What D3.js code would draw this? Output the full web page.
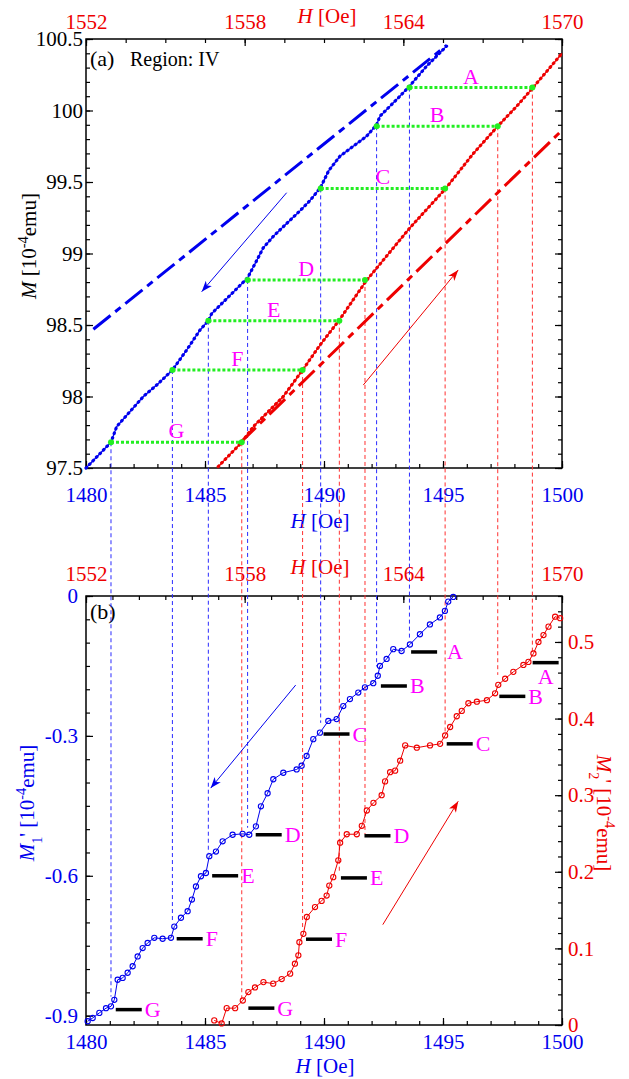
<!DOCTYPE html>
<html lang="en">
<head>
<meta charset="utf-8">
<title>Region IV: M(H) steps</title>
<script src="https://d3js.org/d3.v7.min.js"></script>
<style>
  body { margin: 0; background: #fff; }
  svg text { font-family: "Liberation Serif", "Times New Roman", serif; }
</style>
</head>
<body>
<script>
// ---------- data ----------
var letters = ["A", "B", "C", "D", "E", "F", "G"];

// panel (a), blue branch vs bottom H axis
var hBlueA = [1480.00, 1481.05, 1481.29, 1482.41, 1482.97, 1483.63, 1484.23, 1484.79, 1485.14, 1485.28,
              1486.19, 1486.79, 1487.20, 1487.45, 1487.87, 1488.43, 1489.00, 1489.41, 1489.85, 1490.20,
              1490.67, 1491.79, 1492.21, 1492.35, 1493.19, 1493.59, 1494.31, 1495.15];
var mBlueA = [97.50, 97.68, 97.79, 98.00, 98.08, 98.185, 98.325, 98.465, 98.53, 98.58,
              98.73, 98.83, 98.96, 99.04, 99.12, 99.21, 99.30, 99.37, 99.46, 99.58,
              99.68, 99.82, 99.90, 99.96, 100.10, 100.17, 100.31, 100.45];
// panel (a), red branch vs top H axis
var hRedA = [1557.00, 1557.89, 1558.33, 1559.46, 1560.19, 1560.85, 1561.58, 1562.60, 1564.25,
             1565.58, 1566.65, 1567.57, 1568.29, 1568.88, 1570.00];
var mRedA = [97.51, 97.68, 97.79, 98.00, 98.185, 98.36, 98.535, 98.81, 99.18,
             99.45, 99.70, 99.89, 100.03, 100.155, 100.40];
// dash-dot lines
var dashBlueH = [1480.31, 1495.15], dashBlueM = [98.47, 100.455];
var dashRedH = [1557.82, 1569.99], dashRedM = [97.675, 99.86];

// green step levels A..G
var stepM = [100.16, 99.89, 99.455, 98.815, 98.53, 98.185, 97.68];
var stepHBlue = [1493.59, 1492.21, 1489.86, 1486.79, 1485.14, 1483.63, 1481.05];
var stepHRed = [1568.88, 1567.57, 1565.58, 1562.55, 1561.58, 1560.19, 1557.89];
// where the guide lines stop in panel (b)
var lineEndM1 = [-0.094, -0.151, -0.272, -0.497, -0.551, -0.700, -0.859];
var lineEndM2 = [0.487, 0.457, 0.383, 0.249, 0.199, 0.127, 0.032];

// panel (b) M1' (blue) vs bottom axis
var hBlueB = [1480.07, 1480.28, 1480.56, 1480.84, 1481.05, 1481.19, 1481.33, 1481.54, 1481.75, 1481.96,
              1482.17, 1482.38, 1482.59, 1482.87, 1483.22, 1483.57, 1483.71, 1483.99, 1484.27, 1484.45,
              1484.62, 1484.83, 1485.04, 1485.18, 1485.46, 1485.74, 1486.16, 1486.58, 1486.86, 1487.14,
              1487.35, 1487.63, 1487.87, 1488.29, 1488.85, 1489.06, 1489.27, 1489.55, 1489.83, 1490.18,
              1490.53, 1490.81, 1491.09, 1491.44, 1491.72, 1492.07, 1492.26, 1492.35, 1492.63, 1492.91,
              1493.26, 1493.61, 1494.03, 1494.45, 1494.87, 1495.08, 1495.22, 1495.43];
var m1 = [-0.912, -0.905, -0.894, -0.884, -0.880, -0.866, -0.823, -0.819, -0.808, -0.794,
          -0.773, -0.755, -0.744, -0.733, -0.735, -0.733, -0.709, -0.690, -0.676, -0.651,
          -0.623, -0.601, -0.594, -0.558, -0.548, -0.526, -0.512, -0.510, -0.512, -0.494,
          -0.451, -0.423, -0.393, -0.379, -0.372, -0.364, -0.343, -0.307, -0.293, -0.268,
          -0.264, -0.236, -0.221, -0.207, -0.196, -0.187, -0.171, -0.150, -0.135, -0.114,
          -0.118, -0.104, -0.082, -0.061, -0.046, -0.032, -0.012, -0.002];
// panel (b) M2' (red) vs top axis
var hRedB = [1556.85, 1557.13, 1557.32, 1557.64, 1557.93, 1558.14, 1558.39, 1558.71, 1559.08, 1559.40,
             1559.72, 1559.90, 1560.03, 1560.07, 1560.22, 1560.35, 1560.66, 1560.91, 1561.10, 1561.20,
             1561.35, 1561.54, 1561.61, 1561.86, 1562.24, 1562.43, 1562.62, 1562.87, 1563.18, 1563.31,
             1563.50, 1563.69, 1563.88, 1564.07, 1564.51, 1565.01, 1565.39, 1565.58, 1565.77, 1566.02,
             1566.21, 1566.46, 1566.78, 1567.16, 1567.47, 1567.59, 1567.85, 1568.16, 1568.54, 1568.73,
             1568.92, 1569.11, 1569.30, 1569.49, 1569.74, 1569.93];
var m2 = [0.006, 0.002, 0.022, 0.022, 0.032, 0.043, 0.049, 0.056, 0.054, 0.060,
          0.067, 0.080, 0.091, 0.108, 0.119, 0.141, 0.154, 0.162, 0.169, 0.182,
          0.193, 0.215, 0.238, 0.249, 0.249, 0.260, 0.280, 0.290, 0.300, 0.318,
          0.330, 0.332, 0.345, 0.365, 0.362, 0.365, 0.367, 0.378, 0.389, 0.403,
          0.410, 0.420, 0.422, 0.424, 0.433, 0.444, 0.452, 0.461, 0.470, 0.474,
          0.485, 0.500, 0.509, 0.520, 0.533, 0.531];

// black level bars in (b)
var barHBlue = [1493.66, 1492.39, 1489.98, 1487.13, 1485.30, 1483.81, 1481.25];
var barM1 = [-0.120, -0.193, -0.296, -0.512, -0.600, -0.735, -0.887];
var barHRed = [1568.89, 1567.63, 1565.64, 1562.53, 1561.64, 1560.32, 1558.14];
var barM2 = [0.473, 0.429, 0.367, 0.247, 0.192, 0.112, 0.022];

// arrows [h0, m0, h1, m1] (tip at second point)
var arrowBlueA = [1488.43, 99.425, 1484.86, 98.733];
var arrowRedA = [1491.65, 98.08, 1495.64, 98.885];
var arrowBlueB = [1488.81, -0.191, 1485.24, -0.412];
var arrowRedB = [1492.47, 0.131, 1495.64, 0.292];

// ticks
var hTicks = [1480, 1485, 1490, 1495, 1500];
var hrTicks = [1552, 1558, 1564, 1570];
var mTicks = [97.5, 98, 98.5, 99, 99.5, 100, 100.5];
var m1Ticks = [0, -0.3, -0.6, -0.9];
var m2Ticks = [0, 0.1, 0.2, 0.3, 0.4, 0.5];

// ---------- layout ----------
var w = 629, h = 1079;
var left = 86, right = 562;
var aTop = 39, aBot = 468, bTop = 596, bBot = 1025;
var BLUE = "#0000ee", RED = "#ee0000", GREEN = "#22ee22", MAG = "#ff00ff";
var FONT = "Liberation Serif";

var svg = d3.select("body").append("svg").attr("width", w).attr("height", h);

var xB = d3.scaleLinear().domain([1480, 1500]).range([left, right]);
var xR = d3.scaleLinear().domain([1552, 1570]).range([left, right]);
var yA = d3.scaleLinear().domain([97.5, 100.5]).range([aBot, aTop]);
var y1 = d3.scaleLinear().domain([-0.92, 0]).range([bBot, bTop]);
var y2 = d3.scaleLinear().domain([0, 0.56]).range([bBot, bTop]);

function stepRange(a, b, s) {
  var out = [];
  for (var i = 0; a + i * s <= b + 1e-9; i++) out.push(+(a + i * s).toFixed(4));
  return out;
}

function axis(maker, scale, pos, majors, minors, pad, color, labels) {
  var gm = svg.append("g").attr("transform", pos)
    .call(maker(scale).tickValues(minors).tickSize(-4).tickFormat(""));
  gm.select(".domain").remove();
  var g = svg.append("g").attr("transform", pos)
    .call(maker(scale).tickValues(majors).tickSize(-7).tickPadding(pad)
      .tickFormat(labels ? function(d) { return String(d); } : ""));
  g.select(".domain").remove();
  g.attr("font-family", FONT).attr("font-size", 21);
  g.selectAll("line").attr("stroke", "#000").attr("stroke-width", 1.2);
  gm.selectAll("line").attr("stroke", "#000").attr("stroke-width", 1.2);
  g.selectAll("text").attr("fill", color);
}

// panel (a) axes
axis(d3.axisBottom, xB, "translate(0," + aBot + ")", hTicks, stepRange(1480, 1500, 1), 19, BLUE, true);
axis(d3.axisTop, xR, "translate(0," + aTop + ")", hrTicks, stepRange(1552, 1570, 1.5), 10, RED, true);
axis(d3.axisLeft, yA, "translate(" + left + ",0)", mTicks, stepRange(97.5, 100.5, 0.1), 3, "#000", true);
axis(d3.axisRight, yA, "translate(" + right + ",0)", mTicks, stepRange(97.5, 100.5, 0.1), 3, "#000", false);
// panel (b) axes
axis(d3.axisBottom, xB, "translate(0," + bBot + ")", hTicks, stepRange(1480, 1500, 1), 9, BLUE, true);
axis(d3.axisTop, xR, "translate(0," + bTop + ")", hrTicks, stepRange(1552, 1570, 1), 15, RED, true);
axis(d3.axisLeft, y1, "translate(" + left + ",0)", m1Ticks, stepRange(-0.9, 0, 0.05), 8, BLUE, true);
axis(d3.axisRight, y2, "translate(" + right + ",0)", m2Ticks, stepRange(0, 0.56, 0.02), 6, RED, true);

svg.append("rect").attr("x", left).attr("y", aTop).attr("width", right - left).attr("height", aBot - aTop)
  .attr("fill", "none").attr("stroke", "#000").attr("stroke-width", 1.5);
svg.append("rect").attr("x", left).attr("y", bTop).attr("width", right - left).attr("height", bBot - bTop)
  .attr("fill", "none").attr("stroke", "#000").attr("stroke-width", 1.5);

// rich text helper: parts = [[text, kind]], kind: "" | "i" | "sup" | "sub"
function richText(x, y, parts, color, size, rot, anchor) {
  var t = svg.append("text").attr("transform", "translate(" + x + "," + y + ") rotate(" + (rot || 0) + ")")
    .attr("fill", color).attr("font-size", size).attr("text-anchor", anchor || "middle");
  parts.forEach(function(p) {
    var s = t.append("tspan").text(p[0]);
    if (p[1] === "i") s.attr("font-style", "italic");
    if (p[1] === "sup") s.attr("baseline-shift", "super").attr("font-size", size * 0.68);
    if (p[1] === "sub") s.attr("baseline-shift", "sub").attr("font-size", size * 0.68);
  });
  return t;
}

// axis titles
var hTitle = [["H", "i"], [" [Oe]", ""]];
richText(327, 23, hTitle, RED, 21);
richText(320, 528, hTitle, BLUE, 21);
richText(320, 574, hTitle, RED, 21);
richText(325, 1073, hTitle, BLUE, 21);
richText(36, 246, [["M", "i"], [" [10", ""], ["-4", "sup"], ["emu]", ""]], "#000", 21, -90);
richText(34, 803, [["M", "i"], ["1", "sub"], ["' [10", ""], ["-4", "sup"], ["emu]", ""]], BLUE, 21, -90);
richText(597, 813, [["M", "i"], ["2", "sub"], ["' [10", ""], ["-4", "sup"], ["emu]", ""]], RED, 21, 90);

svg.append("text").attr("x", 90).attr("y", 66).attr("font-size", 22).text("(a)");
svg.append("text").attr("x", 130).attr("y", 66).attr("font-size", 20).text("Region: IV");
svg.append("text").attr("x", 90).attr("y", 619).attr("font-size", 22).text("(b)");

// vertical guide lines
letters.forEach(function(L, i) {
  svg.append("line").attr("x1", xB(stepHBlue[i])).attr("x2", xB(stepHBlue[i]))
    .attr("y1", yA(stepM[i])).attr("y2", y1(lineEndM1[i]))
    .attr("stroke", "#2a2aff").attr("stroke-width", 1).attr("stroke-dasharray", "4,3");
  svg.append("line").attr("x1", xR(stepHRed[i])).attr("x2", xR(stepHRed[i]))
    .attr("y1", yA(stepM[i])).attr("y2", y2(lineEndM2[i]))
    .attr("stroke", "#ff3030").attr("stroke-width", 1).attr("stroke-dasharray", "4,3");
});

// dash-dot lines (a)
var lineA = d3.line();
svg.append("path").attr("d", lineA(d3.zip(dashBlueH.map(xB), dashBlueM.map(yA))))
  .attr("fill", "none").attr("stroke", BLUE).attr("stroke-width", 3).attr("stroke-dasharray", "22,6,7,6");
svg.append("path").attr("d", lineA(d3.zip(dashRedH.map(xR), dashRedM.map(yA))))
  .attr("fill", "none").attr("stroke", RED).attr("stroke-width", 3).attr("stroke-dasharray", "22,6,7,6");

// dotted curves (a)
function dottedCurve(hs, ms, xs, color) {
  var d = lineA(hs.map(function(v, i) { return [xs(v), yA(ms[i])]; }));
  svg.append("path").attr("d", d).attr("fill", "none").attr("stroke", color).attr("stroke-width", 1.2);
  svg.append("path").attr("d", d).attr("fill", "none").attr("stroke", color).attr("stroke-width", 3.2)
    .attr("stroke-linecap", "round").attr("stroke-dasharray", "0.8,4.2");
}
dottedCurve(hBlueA, mBlueA, xB, BLUE);
dottedCurve(hRedA, mRedA, xR, RED);

// green step lines + labels
letters.forEach(function(L, i) {
  var xa = xB(stepHBlue[i]), xb = xR(stepHRed[i]), yy = yA(stepM[i]);
  svg.append("line").attr("x1", xa).attr("x2", xb).attr("y1", yy).attr("y2", yy)
    .attr("stroke", GREEN).attr("stroke-width", 3).attr("stroke-dasharray", "3,2");
  svg.append("circle").attr("cx", xa).attr("cy", yy).attr("r", 3).attr("fill", GREEN);
  svg.append("circle").attr("cx", xb).attr("cy", yy).attr("r", 3).attr("fill", GREEN);
  svg.append("text").attr("x", (xa + xb) / 2).attr("y", yy - 4).attr("text-anchor", "middle")
    .attr("font-size", 22).attr("fill", MAG).text(L);
});

// arrows
function marker(id, color) {
  svg.append("defs").append("marker").attr("id", id).attr("markerUnits", "userSpaceOnUse")
    .attr("markerWidth", 12).attr("markerHeight", 10).attr("refX", 11).attr("refY", 5).attr("orient", "auto")
    .append("path").attr("d", "M0,1 L11,5 L0,9 L3,5 Z").attr("fill", color);
}
marker("ab", BLUE); marker("ar", RED);
function arrow(a, xs, ys, color, id) {
  svg.append("line").attr("x1", xs(a[0])).attr("y1", ys(a[1])).attr("x2", xs(a[2])).attr("y2", ys(a[3]))
    .attr("stroke", color).attr("stroke-width", 1).attr("marker-end", "url(#" + id + ")");
}
arrow(arrowBlueA, xB, yA, BLUE, "ab");
arrow(arrowRedA, xB, yA, RED, "ar");
arrow(arrowBlueB, xB, y1, BLUE, "ab");
arrow(arrowRedB, xB, y2, RED, "ar");

// panel (b) curves
function circleCurve(hs, ms, xs, ys, color) {
  var pts = hs.map(function(v, i) { return [xs(v), ys(ms[i])]; });
  svg.append("path").attr("d", lineA(pts)).attr("fill", "none").attr("stroke", color).attr("stroke-width", 1);
  svg.append("g").selectAll("circle").data(pts).enter().append("circle")
    .attr("cx", function(d) { return d[0]; }).attr("cy", function(d) { return d[1]; })
    .attr("r", 2.6).attr("fill", "none").attr("stroke", color).attr("stroke-width", 1.1);
}
circleCurve(hBlueB, m1, xB, y1, BLUE);
circleCurve(hRedB, m2, xR, y2, RED);

// level bars + letters
letters.forEach(function(L, i) {
  var xa = xB(barHBlue[i]), ya = y1(barM1[i]);
  svg.append("line").attr("x1", xa).attr("x2", xa + 26).attr("y1", ya).attr("y2", ya)
    .attr("stroke", "#000").attr("stroke-width", 3.5);
  svg.append("text").attr("x", xa + 26 + (i === 0 ? 10 : 3)).attr("y", ya + 7.5)
    .attr("font-size", 22).attr("fill", MAG).text(L);
  var xr = xR(barHRed[i]), yr = y2(barM2[i]);
  svg.append("line").attr("x1", xr).attr("x2", xr + 26).attr("y1", yr).attr("y2", yr)
    .attr("stroke", "#000").attr("stroke-width", 3.5);
  if (i === 0) {
    svg.append("text").attr("x", xr + 13).attr("y", yr + 21).attr("text-anchor", "middle")
      .attr("font-size", 22).attr("fill", MAG).text(L);
  } else {
    svg.append("text").attr("x", xr + 29).attr("y", yr + 7.5)
      .attr("font-size", 22).attr("fill", MAG).text(L);
  }
});
</script>
</body>
</html>
